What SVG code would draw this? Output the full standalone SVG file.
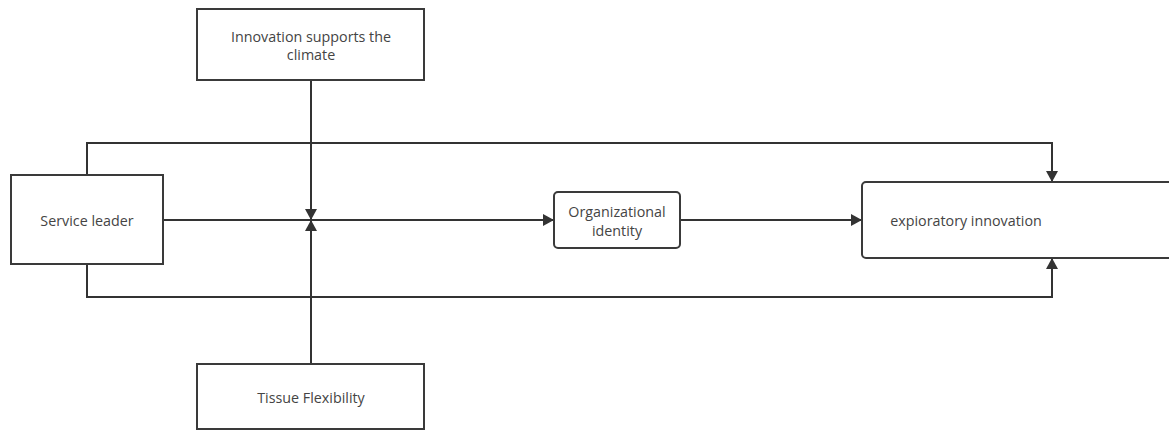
<svg xmlns="http://www.w3.org/2000/svg" width="1169" height="430" viewBox="0 0 1169 430">
<style>
.box{fill:#fff;stroke:#3a3a3a;stroke-width:2}
.t{font-family:"Open Sans","Noto Sans",sans-serif;font-size:14.3px;fill:#444;text-anchor:middle}
.c{fill:none;stroke:#333;stroke-width:2}
</style>
<defs>
<marker id="ah" markerWidth="13" markerHeight="13" refX="11" refY="6.5" orient="auto" markerUnits="userSpaceOnUse">
<path d="M0,0.5 L11,6.5 L0,12.5 Z" fill="#333"/>
</marker>
</defs>
<rect width="1169" height="430" fill="#fff"/>
<g id="connectors">
<path class="c" d="M163,220 H554" marker-end="url(#ah)"/>
<path class="c" d="M680,220 H862" marker-end="url(#ah)"/>
<path class="c" d="M311,80 V220" marker-end="url(#ah)"/>
<path class="c" d="M311,364 V220" marker-end="url(#ah)"/>
<path class="c" d="M87,175 V143 H1052 V182" marker-end="url(#ah)"/>
<path class="c" d="M87,264 V297 H1052 V258" marker-end="url(#ah)"/>
</g>
<g id="innovation">
<rect class="box" x="197" y="9" width="227" height="71"/>
<text class="t" x="311" y="42">Innovation supports the</text>
<text class="t" x="311" y="60">climate</text>
</g>
<g id="service">
<rect class="box" x="11" y="175" width="152" height="89"/>
<text class="t" x="87" y="226">Service leader</text>
</g>
<g id="tissue">
<rect class="box" x="197" y="364" width="227" height="65"/>
<text class="t" x="311" y="403">Tissue Flexibility</text>
</g>
<g id="identity">
<rect class="box" x="554" y="192" width="126" height="56" rx="4"/>
<text class="t" x="617" y="217">Organizational</text>
<text class="t" x="617" y="236">identity</text>
</g>
<g id="exploratory">
<rect class="box" x="862" y="182" width="320" height="76" rx="4"/>
<text class="t" x="966" y="226">expioratory innovation</text>
</g>
</svg>
